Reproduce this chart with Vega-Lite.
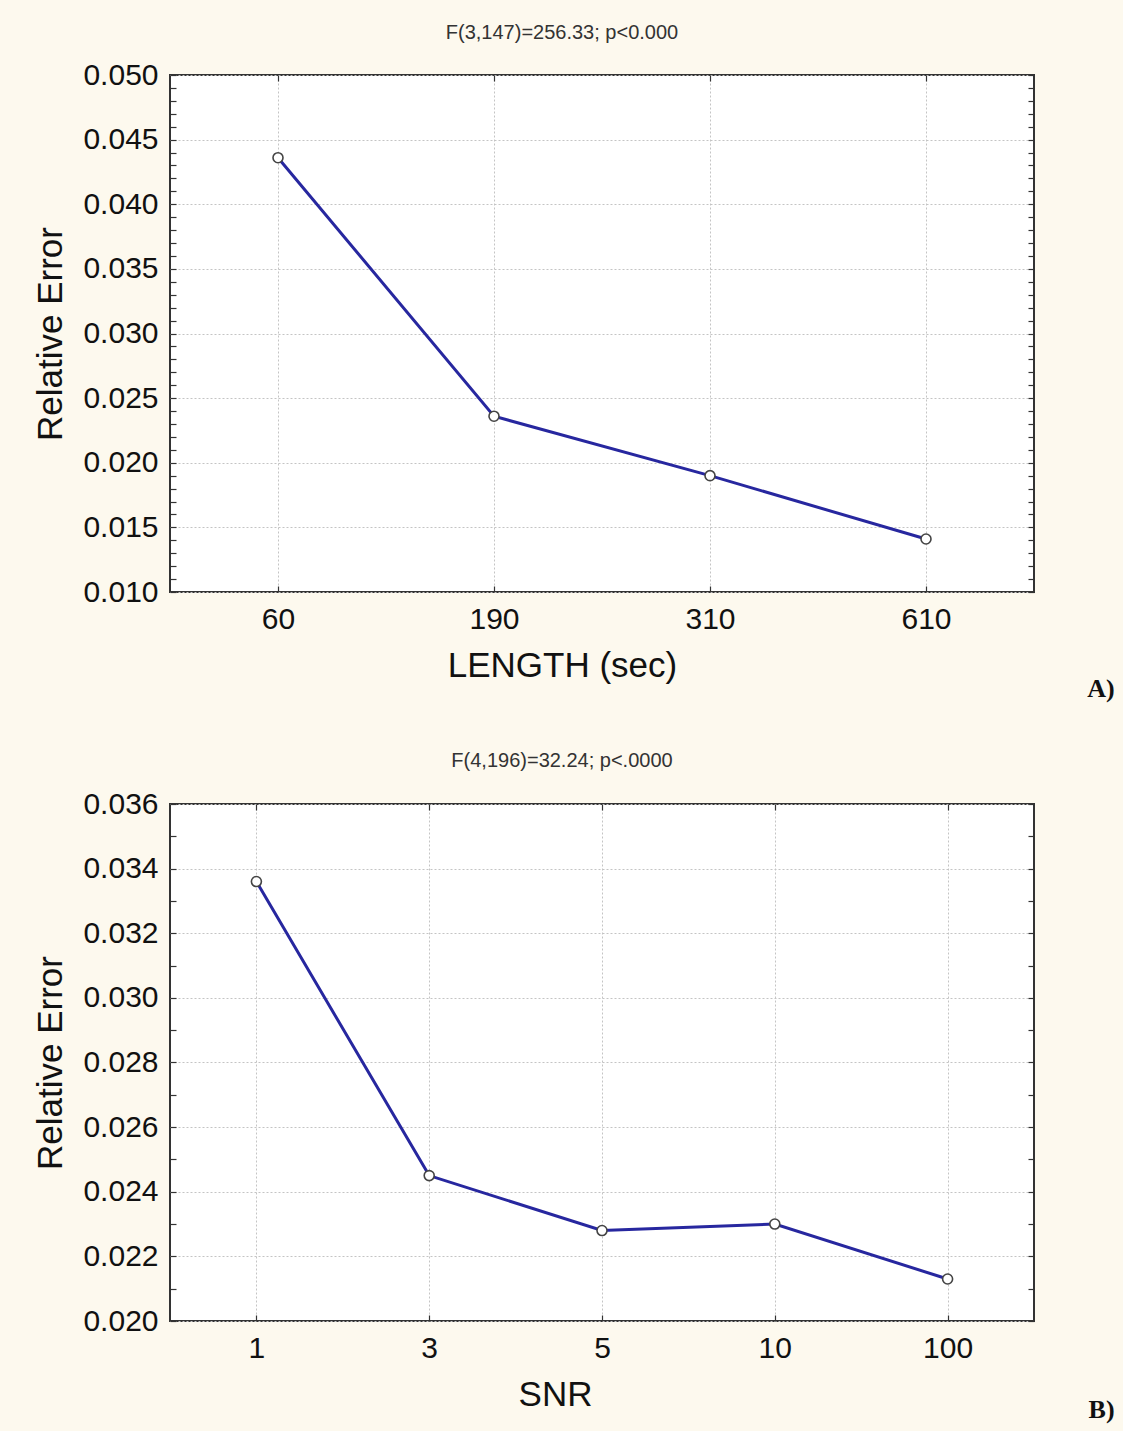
{
  "$schema": "https://vega.github.io/schema/vega-lite/v6.json",
  "background": "#fdf9ee",
  "padding": {"left": 32, "top": 22, "right": 8, "bottom": 8},
  "config": {
    "font": "Liberation Sans",
    "view": {"fill": "white", "stroke": "#333333", "strokeWidth": 2},
    "concat": {"spacing": 48},
    "axis": {
      "labelFont": "Liberation Sans",
      "labelFontSize": 30,
      "labelColor": "#111111",
      "titleFont": "Liberation Sans",
      "titleFontSize": 35,
      "titleFontWeight": "normal",
      "titleColor": "#111111",
      "domain": false,
      "tickColor": "#333333",
      "tickSize": -6,
      "tickWidth": 1.2,
      "gridColor": "#c4c4c4",
      "gridDash": [2, 2],
      "gridWidth": 1,
      "labelOverlap": false,
      "labelBound": false
    }
  },
  "vconcat": [
    {
      "title": {"text": "A)", "orient": "bottom", "anchor": "end", "font": "Liberation Serif", "fontSize": 26, "fontWeight": "bold", "color": "#111111", "dx": 79, "offset": -8},
      "vconcat": [
        {
          "title": {"text": "F(3,147)=256.33; p<0.000", "font": "Liberation Sans", "fontSize": 20, "fontWeight": "normal", "color": "#333333", "dx": -40, "offset": 17},
          "width": 864,
          "height": 517,
          "data": {"values": [
            {"length": "60", "error": 0.0436},
            {"length": "190", "error": 0.0236},
            {"length": "310", "error": 0.0190},
            {"length": "610", "error": 0.0141}
          ]},
          "layer": [
            {
              "mark": {"type": "line", "color": "#27279f", "strokeWidth": 3},
              "encoding": {
                "x": {"field": "length", "type": "ordinal", "sort": null, "scale": {"type": "point", "padding": 0.5},
                  "axis": {"orient": "bottom", "title": "LENGTH (sec)", "labelAngle": 0, "labelPadding": 18, "titlePadding": 14, "titleX": 392, "grid": true}},
                "y": {"field": "error", "type": "quantitative", "scale": {"domain": [0.01, 0.05], "nice": false, "zero": false},
                  "axis": {"orient": "left", "title": "Relative Error", "labelPadding": 18, "titlePadding": 14,
                    "values": [0.010, 0.011, 0.012, 0.013, 0.014, 0.015, 0.016, 0.017, 0.018, 0.019, 0.020, 0.021, 0.022, 0.023, 0.024, 0.025, 0.026, 0.027, 0.028, 0.029, 0.030, 0.031, 0.032, 0.033, 0.034, 0.035, 0.036, 0.037, 0.038, 0.039, 0.040, 0.041, 0.042, 0.043, 0.044, 0.045, 0.046, 0.047, 0.048, 0.049, 0.050],
                    "labelExpr": "round(datum.value * 1000) % 5 === 0 ? format(datum.value, '.3f') : ''",
                    "grid": true,
                    "gridOpacity": {"condition": {"test": "round(datum.value * 1000) % 5 === 0", "value": 1}, "value": 0}}}
              }
            },
            {
              "mark": {"type": "point", "filled": true, "fill": "white", "stroke": "#444444", "strokeWidth": 1.6, "size": 100, "opacity": 1},
              "encoding": {
                "x": {"field": "length", "type": "ordinal", "sort": null, "scale": {"type": "point", "padding": 0.5},
                  "axis": {"orient": "top", "labels": false, "title": null, "grid": false}},
                "y": {"field": "error", "type": "quantitative", "scale": {"domain": [0.01, 0.05], "nice": false, "zero": false},
                  "axis": {"orient": "right", "labels": false, "title": null, "grid": false,
                    "values": [0.010, 0.011, 0.012, 0.013, 0.014, 0.015, 0.016, 0.017, 0.018, 0.019, 0.020, 0.021, 0.022, 0.023, 0.024, 0.025, 0.026, 0.027, 0.028, 0.029, 0.030, 0.031, 0.032, 0.033, 0.034, 0.035, 0.036, 0.037, 0.038, 0.039, 0.040, 0.041, 0.042, 0.043, 0.044, 0.045, 0.046, 0.047, 0.048, 0.049, 0.050]}}
              }
            }
          ],
          "resolve": {"axis": {"x": "independent", "y": "independent"}}
        }
      ]
    },
    {
      "title": {"text": "B)", "orient": "bottom", "anchor": "end", "font": "Liberation Serif", "fontSize": 26, "fontWeight": "bold", "color": "#111111", "dx": 79, "offset": -16},
      "vconcat": [
        {
          "title": {"text": "F(4,196)=32.24; p<.0000", "font": "Liberation Sans", "fontSize": 20, "fontWeight": "normal", "color": "#333333", "dx": -40, "offset": 18},
          "width": 864,
          "height": 517,
          "data": {"values": [
            {"snr": "1", "error": 0.0336},
            {"snr": "3", "error": 0.0245},
            {"snr": "5", "error": 0.0228},
            {"snr": "10", "error": 0.0230},
            {"snr": "100", "error": 0.0213}
          ]},
          "layer": [
            {
              "mark": {"type": "line", "color": "#27279f", "strokeWidth": 3},
              "encoding": {
                "x": {"field": "snr", "type": "ordinal", "sort": null, "scale": {"type": "point", "padding": 0.5},
                  "axis": {"orient": "bottom", "title": "SNR", "labelAngle": 0, "labelPadding": 18, "titlePadding": 14, "titleX": 385, "grid": true}},
                "y": {"field": "error", "type": "quantitative", "scale": {"domain": [0.02, 0.036], "nice": false, "zero": false},
                  "axis": {"orient": "left", "title": "Relative Error", "labelPadding": 18, "titlePadding": 14,
                    "values": [0.020, 0.021, 0.022, 0.023, 0.024, 0.025, 0.026, 0.027, 0.028, 0.029, 0.030, 0.031, 0.032, 0.033, 0.034, 0.035, 0.036],
                    "labelExpr": "round(datum.value * 1000) % 2 === 0 ? format(datum.value, '.3f') : ''",
                    "grid": true,
                    "gridOpacity": {"condition": {"test": "round(datum.value * 1000) % 2 === 0", "value": 1}, "value": 0}}}
              }
            },
            {
              "mark": {"type": "point", "filled": true, "fill": "white", "stroke": "#444444", "strokeWidth": 1.6, "size": 100, "opacity": 1},
              "encoding": {
                "x": {"field": "snr", "type": "ordinal", "sort": null, "scale": {"type": "point", "padding": 0.5},
                  "axis": {"orient": "top", "labels": false, "title": null, "grid": false}},
                "y": {"field": "error", "type": "quantitative", "scale": {"domain": [0.02, 0.036], "nice": false, "zero": false},
                  "axis": {"orient": "right", "labels": false, "title": null, "grid": false,
                    "values": [0.020, 0.021, 0.022, 0.023, 0.024, 0.025, 0.026, 0.027, 0.028, 0.029, 0.030, 0.031, 0.032, 0.033, 0.034, 0.035, 0.036]}}
              }
            }
          ],
          "resolve": {"axis": {"x": "independent", "y": "independent"}}
        }
      ]
    }
  ]
}
